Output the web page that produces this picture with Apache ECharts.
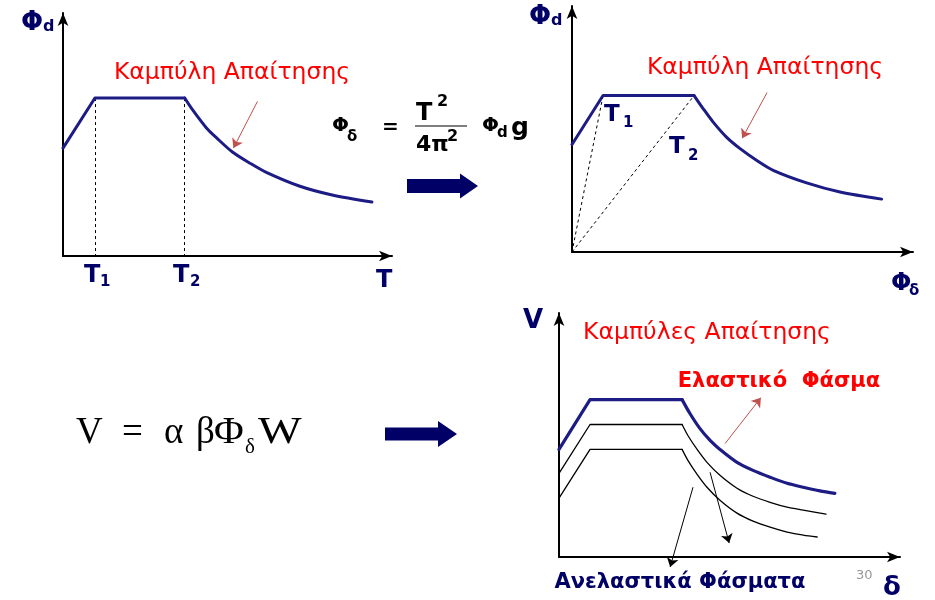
<!DOCTYPE html>
<html><head><meta charset="utf-8">
<script src="https://cdn.jsdelivr.net/npm/echarts@6/dist/echarts.min.js"></script>
<style>html,body{margin:0;padding:0;background:#fff}#c{width:935px;height:600px}</style>
</head><body><div id="c"></div>
<script>
// ---- Chart 1: Φd vs T (demand curve)
const t1RiseT = [0, 0.97, 3.70];
const t1RisePhi = [4.44, 6.50, 6.50];
const t1DecayT = [3.70, 3.94, 4.36, 4.67, 5.15, 5.67, 6.18, 7.18, 8.18, 9.39];
const t1DecayPhi = [6.50, 6.01, 5.27, 4.86, 4.28, 3.83, 3.44, 2.88, 2.51, 2.22];
const periodMarks = [0.97, 3.70];           // T1, T2
const periodLabels = ['T', 'T', 'T'];
const periodSubs = ['1', '2', ''];

// ---- Chart 2: Φd vs Φδ
const c2RiseX = [0, 0.91, 3.58];
const c2RiseY = [4.37, 6.36, 6.36];
const c2DecayX = [3.58, 3.85, 4.14, 4.53, 4.93, 5.42, 5.90, 6.88, 7.86, 9.08];
const c2DecayY = [6.36, 5.82, 5.28, 4.67, 4.20, 3.72, 3.32, 2.81, 2.44, 2.15];

// ---- Chart 3: V vs δ (elastic + inelastic spectra)
const elasticRiseX = [0, 0.91, 3.61];
const elasticRiseY = [4.41, 6.45, 6.45];
const elasticDecayX = [3.61, 3.84, 4.13, 4.43, 4.72, 5.22, 5.69, 6.19, 6.69, 7.16, 7.65, 8.09];
const elasticDecayY = [6.45, 5.88, 5.27, 4.78, 4.41, 3.88, 3.55, 3.27, 3.02, 2.86, 2.71, 2.61];
const inel1RiseX = [0, 0.91, 3.61];
const inel1RiseY = [3.43, 5.43, 5.43];
const inel1DecayX = [3.61, 3.78, 4.05, 4.34, 4.72, 5.22, 5.69, 6.19, 6.69, 7.16, 7.83];
const inel1DecayY = [5.43, 4.98, 4.41, 3.88, 3.35, 2.82, 2.49, 2.24, 2.04, 1.92, 1.76];
const inel2RiseX = [0, 0.91, 3.61];
const inel2RiseY = [2.41, 4.41, 4.41];
const inel2DecayX = [3.61, 3.78, 4.05, 4.34, 4.72, 5.22, 5.69, 6.19, 6.69, 7.16, 7.57];
const inel2DecayY = [4.41, 3.96, 3.39, 2.86, 2.33, 1.80, 1.47, 1.22, 1.02, 0.90, 0.82];

const zip = (a, b) => a.map((v, i) => [v, b[i]]);
const NAVY = '#000066', CURVE = '#1c1c84', RED = '#ff0000', PTR = '#c0504d';

const chart = echarts.init(document.getElementById('c'), null, {renderer: 'canvas'});

function axisPair(idx) {
  const base = {
    type: 'value', min: 0, max: 10, gridIndex: idx,
    axisLine: {show: true, onZero: false, symbol: ['none', 'arrow'], symbolSize: [8, 13],
      lineStyle: {color: '#000', width: 2}},
    axisTick: {show: false}, axisLabel: {show: false}, splitLine: {show: false}
  };
  return [base, Object.assign({}, base)];
}
const ax = [axisPair(0), axisPair(1), axisPair(2)];

function linesSeries(gi, pairs, color, width, dashed, arrow) {
  return {
    type: 'lines', coordinateSystem: 'cartesian2d', xAxisIndex: gi, yAxisIndex: gi,
    silent: true, clip: false, polyline: false,
    symbol: arrow ? ['none', 'arrow'] : ['none', 'none'], symbolSize: 9,
    lineStyle: {color: color, width: width, type: dashed ? [3, 3] : 'solid', opacity: 1, curveness: 0},
    data: pairs.map(p => ({coords: [p[0], p[1]]}))
  };
}
const lineBase = (gi, data, color, width, smooth) => ({
  type: 'line', xAxisIndex: gi, yAxisIndex: gi, data: data, smooth: smooth,
  symbol: 'none', silent: true, clip: false,
  lineStyle: {color: color, width: width, cap: 'round', join: 'round'}
});
const SM = 0.3;
const series = [
  lineBase(0, zip(t1RiseT, t1RisePhi), CURVE, 3, false),
  lineBase(0, zip(t1DecayT, t1DecayPhi), CURVE, 3, SM),
  linesSeries(0, periodMarks.map(t => [[t, 6.5], [t, 0]]), '#000', 1, true, false),
  linesSeries(0, [[[5.91, 6.36], [5.18, 4.44]]], PTR, 1, false, true),

  lineBase(1, zip(c2RiseX, c2RiseY), CURVE, 3, false),
  lineBase(1, zip(c2DecayX, c2DecayY), CURVE, 3, SM),
  linesSeries(1, [[[0, 0], [c2RiseX[1], c2RiseY[1]]], [[0, 0], [c2RiseX[2], c2RiseY[2]]]], '#000', 1, true, false),
  linesSeries(1, [[[5.72, 6.48], [4.99, 4.62]]], PTR, 1, false, true),

  lineBase(2, zip(elasticRiseX, elasticRiseY), CURVE, 3.2, false),
  lineBase(2, zip(elasticDecayX, elasticDecayY), CURVE, 3.2, SM),
  lineBase(2, zip(inel1RiseX, inel1RiseY), '#000', 1.3, false),
  lineBase(2, zip(inel1DecayX, inel1DecayY), '#000', 1.3, SM),
  lineBase(2, zip(inel2RiseX, inel2RiseY), '#000', 1.3, false),
  lineBase(2, zip(inel2DecayX, inel2DecayY), '#000', 1.3, SM),
  linesSeries(2, [[[4.87, 4.65], [5.92, 6.53]]], PTR, 1, false, true),
  linesSeries(2, [[[4.43, 3.47], [4.99, 0.57]], [[3.93, 2.86], [3.26, -0.41]]], '#000', 1, false, true)
];

const SANS = '"DejaVu Sans", Verdana, sans-serif';
const SERIF = '"Liberation Serif", "Times New Roman", serif';
function txt(x, y, s, size, color, bold, family, align, sx) {
  const el = {type: 'text', x: x, y: y, silent: true,
    style: {text: s, fill: color, fontSize: size, fontWeight: bold ? 'bold' : 'normal',
      fontFamily: family || SANS,
      align: align || 'left', verticalAlign: 'middle',
      textAlign: align || 'left', textVerticalAlign: 'middle'}};
  if (sx) el.scaleX = sx;
  return el;
}
function blockArrow(x0, x1, xh, yc, bh, hh) {
  return {type: 'polygon', silent: true,
    shape: {points: [[x0, yc - bh / 2], [xh, yc - bh / 2], [xh, yc - hh / 2], [x1, yc], [xh, yc + hh / 2], [xh, yc + bh / 2], [x0, yc + bh / 2]]},
    style: {fill: NAVY}};
}

const graphics = [
  // chart 1 labels
  txt(21, 23, 'Φ', 26, NAVY, true), txt(43, 27, 'd', 16, NAVY, true),
  txt(84, 276, periodLabels[0], 24, NAVY, true), txt(100, 282, periodSubs[0], 15, NAVY, true),
  txt(173, 276, periodLabels[1], 24, NAVY, true), txt(190, 282, periodSubs[1], 15, NAVY, true),
  txt(376, 281, periodLabels[2], 24, NAVY, true),
  txt(232, 73, 'Καμπύλη Απαίτησης', 23.5, RED, false, SANS, 'center'),
  // formula top
  txt(332, 126, 'Φ', 20, '#000', true), txt(347, 137, 'δ', 15, '#000', true),
  txt(382, 128, '=', 20, '#000', true),
  txt(416, 114, 'T', 24, '#000', true), txt(437, 102, '2', 16, '#000', true),
  {type: 'line', silent: true, shape: {x1: 415, y1: 126, x2: 467, y2: 126}, style: {stroke: '#000', lineWidth: 1.2}},
  txt(416, 145, '4π', 22, '#000', true), txt(447, 137, '2', 16, '#000', true),
  txt(482, 126, 'Φ', 20, '#000', true), txt(497, 133, 'd', 15, '#000', true),
  txt(511, 128, 'g', 25, '#000', true),
  blockArrow(407, 478, 460, 186, 14, 25),
  // chart 2 labels
  txt(529, 17, 'Φ', 26, NAVY, true), txt(551, 21, 'd', 16, NAVY, true),
  txt(604, 115, 'T', 23, NAVY, true), txt(623, 123, '1', 15, NAVY, true),
  txt(669, 147, 'T', 23, NAVY, true), txt(688, 156, '2', 15, NAVY, true),
  txt(891, 284, 'Φ', 24, NAVY, true), txt(909, 291, 'δ', 15, NAVY, true),
  txt(765, 68, 'Καμπύλη Απαίτησης', 23.5, RED, false, SANS, 'center'),
  // formula bottom
  txt(76, 433, 'V', 37, '#000', false, SERIF),
  txt(122, 433, '=', 37, '#000', false, SERIF),
  txt(164, 433, 'α', 37, '#000', false, SERIF),
  txt(196, 433, 'β', 37, '#000', false, SERIF),
  txt(214, 433, 'Φ', 37, '#000', false, SERIF, null, 1.1),
  txt(245, 447, 'δ', 21, '#000', false, SERIF),
  txt(258, 433, 'W', 37, '#000', false, SERIF, null, 1.25),
  blockArrow(385, 457, 438, 434, 13, 26),
  // chart 3 labels
  txt(523, 321, 'V', 26, NAVY, true),
  txt(707, 333, 'Καμπύλες Απαίτησης', 23.5, RED, false, SANS, 'center'),
  txt(779, 382, 'Ελαστικό  Φάσμα', 21, RED, true, SANS, 'center'),
  txt(680, 583, 'Ανελαστικά Φάσματα', 21, NAVY, true, SANS, 'center'),
  txt(856, 576, '30', 13, '#999', false, SANS),
  txt(883, 588, 'δ', 26, NAVY, true)
];

chart.setOption({
  animation: false,
  grid: [
    {left: 63, right: 543, top: 13, bottom: 344},
    {left: 572, right: 22, top: 6, bottom: 348},
    {left: 559, right: 35, top: 313, bottom: 43}
  ],
  xAxis: ax.map(p => p[0]),
  yAxis: ax.map(p => p[1]),
  series: series,
  graphic: graphics
});
</script></body></html>
